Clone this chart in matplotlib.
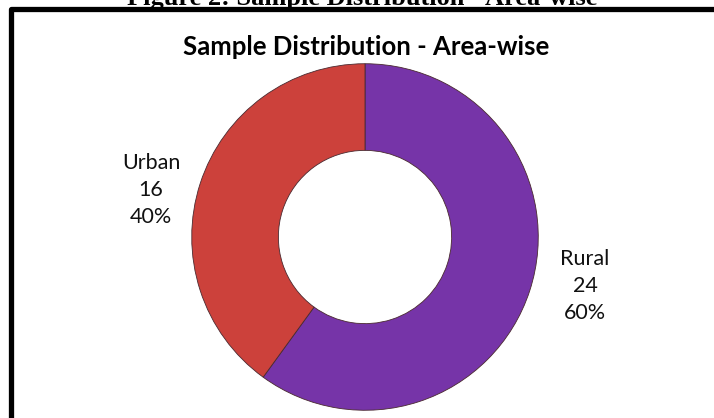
import matplotlib
matplotlib.use("Agg")
import matplotlib.pyplot as plt
from matplotlib.patches import Rectangle

# data
areas = ["Rural", "Urban"]
counts = [24, 16]
colors = ["#7634A8", "#CC413B"]

W, H = 714, 418
fig = plt.figure(figsize=(W / 100, H / 100), dpi=100)


def px(x, y):
    # pixel coords (from top-left) -> figure fraction
    return x / W, 1 - y / H


# donut: centre (365, 237) px, outer radius 175 px
cx, cy, r = 365, 237, 175
ax = fig.add_axes([(cx - r) / W, (H - cy - r) / H, 2 * r / W, 2 * r / H])
ax.pie(
    counts,
    colors=colors,
    startangle=90,
    counterclock=False,
    radius=1,
    wedgeprops=dict(width=0.5, edgecolor="#4a2a30", linewidth=0.6),
)
ax.set_xlim(-1.01, 1.01)
ax.set_ylim(-1.01, 1.01)
ax.set_aspect("equal")
ax.axis("off")

total = sum(counts)
label_pos = {"Rural": (585, 286), "Urban": (151, 190)}
for name, n in zip(areas, counts):
    x, y = px(*label_pos[name])
    fig.text(x, y, f"{name}\n{n}\n{n / total:.0%}", ha="center", va="center",
             fontsize=15.5, family="Lato", linespacing=1.45, color="#111111")

fig.text(*px(366, 55), "Sample Distribution - Area-wise", ha="center", va="baseline",
         fontsize=18.5, fontweight="bold", family="Lato")

# caption cut off at the top of the picture, as in the reference
fig.text(*px(362, 5), "Figure 2: Sample Distribution - Area-wise", ha="center", va="baseline",
         fontsize=19, fontweight="bold", family="Liberation Serif")

# frame, cut off at right and bottom
fig.patches.append(Rectangle(px(10.5, 430), (W + 20) / W, (430 - 9.5) / H,
                             transform=fig.transFigure, fill=False,
                             edgecolor="black", linewidth=3.8, joinstyle="round"))

fig.savefig("out.png", dpi=100)
